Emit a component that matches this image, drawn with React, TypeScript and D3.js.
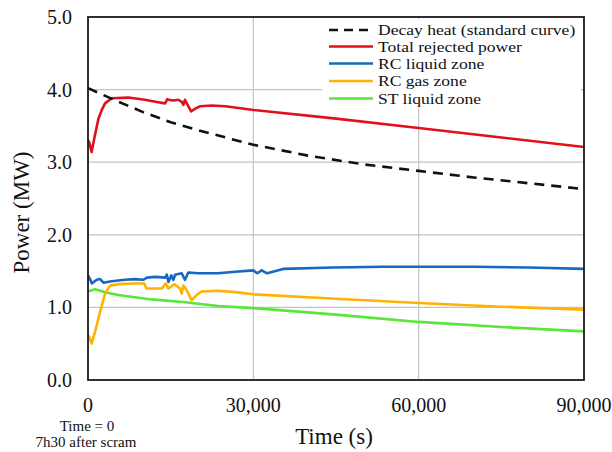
import React from "react";
import * as d3 from "d3";

// Time axis (s) and power (MW) series
const decayTime = [0, 5000, 10000, 15000, 20000, 30000, 40000, 50000, 60000, 70000, 80000, 90000];
const decayPower = [4.02, 3.85, 3.69, 3.55, 3.44, 3.24, 3.09, 2.97, 2.88, 2.79, 2.71, 2.63];

const totalTime = [0, 200, 650, 1200, 1900, 2500, 3100, 4300, 7300, 10300, 12500, 14000, 14400, 14600, 15500, 16400, 17000, 17300, 17600, 18000, 18700, 19500, 20300, 22400, 24900, 30000, 45000, 60000, 75000, 90000];
const totalPower = [3.3, 3.28, 3.14, 3.35, 3.6, 3.72, 3.81, 3.88, 3.89, 3.86, 3.83, 3.81, 3.87, 3.86, 3.85, 3.86, 3.83, 3.79, 3.86, 3.8, 3.7, 3.74, 3.77, 3.78, 3.77, 3.72, 3.6, 3.47, 3.34, 3.21];

const rcLiquidTime = [0, 300, 700, 1200, 1600, 2200, 2800, 3500, 4300, 6700, 8500, 10000, 10700, 12200, 14000, 14300, 14600, 15100, 15500, 15800, 17000, 17600, 18200, 20000, 23600, 26700, 30000, 30700, 31500, 32500, 35400, 44500, 53600, 60000, 70000, 80000, 90000];
const rcLiquidPower = [1.44, 1.4, 1.33, 1.36, 1.38, 1.39, 1.34, 1.35, 1.36, 1.38, 1.39, 1.38, 1.41, 1.42, 1.41, 1.45, 1.35, 1.44, 1.38, 1.45, 1.47, 1.38, 1.48, 1.47, 1.47, 1.49, 1.51, 1.47, 1.51, 1.47, 1.53, 1.55, 1.56, 1.56, 1.56, 1.55, 1.53];

const rcGasTime = [0, 300, 650, 1300, 2200, 3100, 4000, 5500, 8500, 10200, 10600, 13400, 14100, 14600, 15300, 15700, 16700, 17000, 17300, 17900, 18800, 19700, 20600, 23600, 26700, 30000, 45000, 60000, 75000, 90000];
const rcGasPower = [0.62, 0.58, 0.5, 0.67, 0.94, 1.19, 1.3, 1.32, 1.33, 1.33, 1.26, 1.26, 1.33, 1.26, 1.3, 1.32, 1.26, 1.19, 1.3, 1.24, 1.1, 1.17, 1.22, 1.23, 1.21, 1.18, 1.12, 1.06, 1.01, 0.97];

const stLiquidTime = [0, 1300, 3100, 5500, 11500, 17600, 23600, 30000, 45000, 60000, 75000, 90000];
const stLiquidPower = [1.22, 1.25, 1.21, 1.17, 1.11, 1.07, 1.02, 0.99, 0.9, 0.8, 0.73, 0.67];

const xTicks = [0, 30000, 60000, 90000];
const yTicks = [0, 1, 2, 3, 4, 5];

const seriesNames = [
  "Decay heat (standard curve)",
  "Total rejected power",
  "RC liquid zone",
  "RC gas zone",
  "ST liquid zone",
];
const seriesColors = ["#111111", "#e0101c", "#1668c2", "#ffb300", "#58e638"];

const W = 612;
const H = 452;
const plot = { left: 88, right: 584, top: 17, bottom: 380 };
const FONT = "'Liberation Serif', 'Times New Roman', serif";

export default function App() {
  const x = d3.scaleLinear().domain([0, 90000]).range([plot.left, plot.right]);
  const y = d3.scaleLinear().domain([0, 5]).range([plot.bottom, plot.top]);

  const line = d3
    .line<[number, number]>()
    .x((d) => x(d[0]))
    .y((d) => y(d[1]));

  const series = [
    { t: decayTime, v: decayPower, dash: "10 7" },
    { t: totalTime, v: totalPower },
    { t: rcLiquidTime, v: rcLiquidPower },
    { t: rcGasTime, v: rcGasPower },
    { t: stLiquidTime, v: stLiquidPower },
  ];

  const legendRows = [30, 46.5, 63.5, 81, 98.5];

  return (
    <svg
      width={W}
      height={H}
      style={{ position: "absolute", left: 0, top: 0, background: "#fff" }}
      fontFamily={FONT}
    >
      <rect x={0} y={0} width={W} height={H} fill="#fff" />

      {/* grid */}
      {yTicks.filter((t) => t > 0 && t < 5).map((t) => (
        <line key={"gy" + t} x1={plot.left} x2={plot.right} y1={y(t)} y2={y(t)} stroke="#c4c4c4" strokeWidth={1.2} />
      ))}
      {xTicks.filter((t) => t > 0 && t < 90000).map((t) => (
        <line key={"gx" + t} x1={x(t)} x2={x(t)} y1={plot.top} y2={plot.bottom} stroke="#c4c4c4" strokeWidth={1.2} />
      ))}

      {/* series, drawn back to front */}
      {[4, 3, 2, 1, 0].map((i) => {
        const s = series[i];
        const pts = s.t.map((t, j) => [t, s.v[j]] as [number, number]);
        return (
          <path
            key={"s" + i}
            d={line(pts) || ""}
            fill="none"
            stroke={seriesColors[i]}
            strokeWidth={2.6}
            strokeDasharray={s.dash}
            strokeLinejoin="round"
          />
        );
      })}

      {/* legend */}
      <rect x={322} y={19} width={259} height={89} fill="#fff" />
      {seriesNames.map((name, i) => (
        <g key={"lg" + i}>
          <line
            x1={329}
            x2={373}
            y1={legendRows[i]}
            y2={legendRows[i]}
            stroke={seriesColors[i]}
            strokeWidth={2.6}
            strokeDasharray={i === 0 ? "9 6" : undefined}
          />
          <text
            transform={`translate(378, ${legendRows[i] + 5}) scale(1.14, 1)`}
            fontSize={15.4}
            fill="#111"
          >
            {name}
          </text>
        </g>
      ))}

      {/* frame */}
      <rect
        x={plot.left}
        y={plot.top}
        width={plot.right - plot.left}
        height={plot.bottom - plot.top}
        fill="none"
        stroke="#1a1a1a"
        strokeWidth={1.8}
      />

      {/* y tick labels */}
      {yTicks.map((t) => (
        <text key={"yt" + t} x={72} y={y(t) + 7} textAnchor="end" fontSize={20} fill="#111">
          {d3.format(".1f")(t)}
        </text>
      ))}

      {/* x tick labels */}
      {xTicks.map((t) => (
        <text key={"xt" + t} x={x(t)} y={412} textAnchor="middle" fontSize={20} fill="#111">
          {d3.format(",")(t)}
        </text>
      ))}

      <text x={87} y={431} textAnchor="middle" fontSize={15} fill="#111">Time = 0</text>
      <text x={86} y={447} textAnchor="middle" fontSize={15} fill="#111">7h30 after scram</text>

      <text x={334} y={444} textAnchor="middle" fontSize={23} fill="#111">Time (s)</text>
      <text
        transform={`translate(29, ${(plot.top + plot.bottom) / 2 + 14}) rotate(-90)`}
        textAnchor="middle"
        fontSize={23}
        fill="#111"
      >
        Power (MW)
      </text>
    </svg>
  );
}
